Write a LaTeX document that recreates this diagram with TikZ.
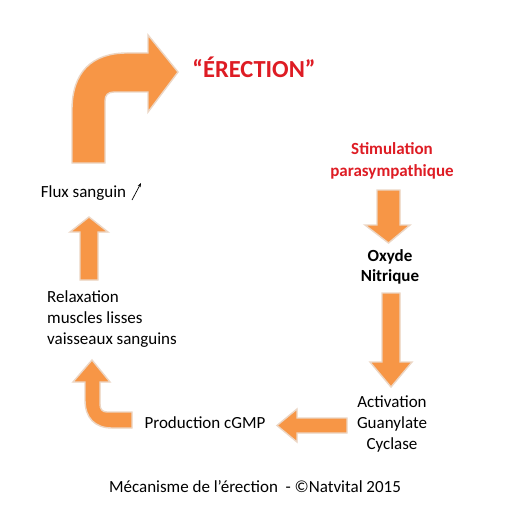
\documentclass[tikz,border=0pt]{standalone}
\usepackage{fontspec}
\setmainfont{Carlito}
\usetikzlibrary{arrows.meta}
\definecolor{fatorange}{RGB}{247,150,70}
\definecolor{fatedge}{RGB}{236,214,196}
\definecolor{titlered}{RGB}{222,28,36}
\tikzset{
  fatarrow/.style={fill=fatorange, draw=fatedge, line width=1.4pt, line join=miter},
  lbl/.style={inner sep=0pt, font=\fontsize{17}{21}\selectfont, align=center},
  redlbl/.style={lbl, text=titlered, font=\fontsize{17}{22}\selectfont\bfseries},
}
\begin{document}
\begin{tikzpicture}[x=1pt,y=-1pt]
\useasboundingbox[fill=white] (0,0) rectangle (509,516);

% top curved arrow
\path[fatarrow] (72,163) -- (72,110) .. controls (72,72) and (92,53) .. (127,53) -- (148,53) -- (148,35)
  -- (178,72) -- (148,112) -- (148,92) -- (114,92) .. controls (108,92) and (105,95) .. (105,101) -- (105,163) -- cycle;

% down arrow 1
\path[fatarrow] (377,190) -- (400,190) -- (400,225) -- (410,225) -- (388.5,243) -- (365,225) -- (377,225) -- cycle;
% down arrow 2
\path[fatarrow] (382,293) -- (400,293) -- (400,362) -- (412,362) -- (391,387) -- (370,362) -- (382,362) -- cycle;
% left arrow
\path[fatarrow] (347,418) -- (297,418) -- (297,409) -- (277,425.5) -- (297,442) -- (297,433) -- (347,433) -- cycle;
% bottom-left curved arrow
\path[fatarrow] (92,360) -- (110,382) -- (100,382) -- (100,404) .. controls (100,409) and (102,412) .. (107,412)
  -- (132,412) -- (132,428) -- (112,428) .. controls (95,428) and (85,418) .. (85,400) -- (85,382) -- (73,382) -- cycle;
% up arrow
\path[fatarrow] (80,280) -- (80,232) -- (70,232) -- (89,217) -- (108,232) -- (98,232) -- (98,280) -- cycle;

% texts
\node[lbl, text=titlered, font=\fontsize{24.5}{27}\selectfont\bfseries] (erection) at (254,67) {“ÉRECTION”};
\node[redlbl] (stim) at (392,161) {Stimulation\\parasympathique};
\node[lbl, font=\fontsize{17}{20}\selectfont\bfseries] (oxyde) at (390,267) {Oxyde\\Nitrique};
\node[lbl] (activ) at (392,424) {Activation\\Guanylate\\Cyclase};
\node[lbl] (cgmp) at (205,423) {Production cGMP};
\node[lbl, align=left, anchor=west] (relax) at (47,319) {Relaxation\\muscles lisses\\vaisseaux sanguins};
\node[lbl] (flux) at (83.5,193) {Flux sanguin};
\coordinate (fluxa) at (132,200);
\coordinate (fluxb) at (141,183);
\draw[-{Stealth[length=4pt,width=3pt]}, line width=0.7pt] (fluxa) -- (fluxb);
\node[lbl] (caption) at (255,487) {Mécanisme de l’érection\ \ - ©Natvital 2015};
\end{tikzpicture}
\end{document}
